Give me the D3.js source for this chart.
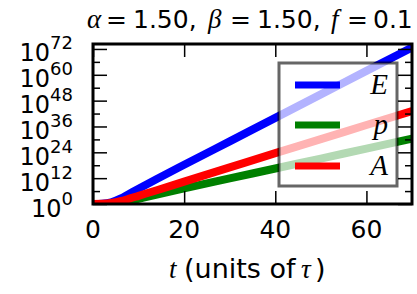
<!DOCTYPE html>
<html>
<head>
<meta charset="utf-8">
<script src="https://cdn.jsdelivr.net/npm/d3@7"></script>
<style>
  body { margin: 0; background: #fff; }
  svg { display: block; }
</style>
</head>
<body>
<div class="chart"></div>
<script>
// time points (units of tau) and log10 of each series
const tVals = [0, 2, 4, 6, 8, 10, 14, 20, 30, 40, 50, 60, 70]
const logE = [0, 0.15, 0.8, 2.5, 4.8, 7.1, 11.6, 18.2, 29.1, 40.0, 50.9, 61.8, 72.7]
const logP = [0, 0, 0.1, 0.6, 1.4, 2.4, 4.4, 7.3, 11.9, 16.5, 21.1, 25.7, 30.3]
const logA = [0, 0.1, 0.5, 1.3, 2.5, 3.8, 6.4, 10.4, 17.0, 23.6, 30.1, 36.7, 43.2]

const xTicks = [0, 20, 40, 60]
const yMajorExp = [0, 12, 24, 36, 48, 60, 72]
const yMinorExp = [6, 18, 30, 42, 54, 66]

const seriesNames = ['E', 'p', 'A']
const seriesColors = ['#0000ff', '#008000', '#ff0000']
const seriesLogs = [logE, logP, logA]

const width = 417
const height = 294
const plotL = 93, plotR = 412, plotT = 44, plotB = 204

var xScale = d3.scaleLinear().domain([0, 70]).range([plotL, plotR])
var yScale = d3.scaleLog().domain([1, Math.pow(10, 74.3)]).range([plotB, plotT])

var svg = d3.select('.chart')
  .append('svg')
  .attr('width', width)
  .attr('height', height)

svg.append('clipPath').attr('id', 'clip')
  .append('rect')
  .attr('x', plotL).attr('y', plotT)
  .attr('width', plotR - plotL).attr('height', plotB - plotT)

// lines
var line = d3.line()
  .x(d => xScale(d[0]))
  .y(d => yScale(Math.pow(10, d[1])))
  .curve(d3.curveMonotoneX)

seriesLogs.forEach((vals, i) => {
  svg.append('path')
    .datum(tVals.map((t, j) => [t, vals[j]]))
    .attr('d', line)
    .attr('fill', 'none')
    .attr('stroke', seriesColors[i])
    .attr('stroke-width', 8)
    .attr('clip-path', 'url(#clip)')
})

// ticks, pointing inwards on all four sides
const xAxisB = d3.axisBottom(xScale).tickValues(xTicks).tickSize(-13).tickFormat('')
const xAxisT = d3.axisTop(xScale).tickValues(xTicks).tickSize(-13).tickFormat('')
svg.append('g').attr('transform', `translate(0,${plotB})`).call(xAxisB)
svg.append('g').attr('transform', `translate(0,${plotT})`).call(xAxisT)

const majorVals = yMajorExp.map(e => Math.pow(10, e))
const minorVals = yMinorExp.map(e => Math.pow(10, e))
svg.append('g').attr('transform', `translate(${plotL},0)`)
  .call(d3.axisLeft(yScale).tickValues(majorVals).tickSize(-14).tickFormat(''))
svg.append('g').attr('transform', `translate(${plotL},0)`)
  .call(d3.axisLeft(yScale).tickValues(minorVals).tickSize(-7).tickFormat(''))
svg.append('g').attr('transform', `translate(${plotR},0)`)
  .call(d3.axisRight(yScale).tickValues(majorVals).tickSize(-14).tickFormat(''))
svg.append('g').attr('transform', `translate(${plotR},0)`)
  .call(d3.axisRight(yScale).tickValues(minorVals).tickSize(-7).tickFormat(''))

svg.selectAll('.domain').remove()
svg.selectAll('.tick line').attr('stroke', '#000').attr('stroke-width', 1.5)

// frame
svg.append('rect')
  .attr('x', plotL).attr('y', plotT)
  .attr('width', plotR - plotL).attr('height', plotB - plotT)
  .attr('fill', 'none').attr('stroke', '#000').attr('stroke-width', 3)

// x tick labels
svg.selectAll('.xlab')
  .data(xTicks)
  .enter()
  .append('text')
  .attr('x', d => xScale(d))
  .attr('y', 238)
  .attr('text-anchor', 'middle')
  .attr('font-family', 'DejaVu Sans')
  .attr('font-size', 25)
  .text(d => d)

// y tick labels 10^n
var ylab = svg.selectAll('.ylab')
  .data(yMajorExp)
  .enter()
  .append('text')
  .attr('x', 73)
  .attr('y', d => yScale(Math.pow(10, d)) + 12.5)
  .attr('text-anchor', 'end')
  .attr('font-family', 'DejaVu Sans')
  .attr('font-size', 24)
ylab.append('tspan').text('10')
ylab.append('tspan').attr('dy', -12).attr('font-size', 18).text(d => d)

// x axis label
const serif = 'Liberation Serif'
var xl = svg.append('text')
  .attr('y', 278)
  .attr('font-family', 'DejaVu Sans')
  .attr('font-size', 27)
xl.append('tspan').attr('x', 169).attr('font-family', serif).attr('font-style', 'italic').text('t')
xl.append('tspan').attr('x', 184).text('(units of')
xl.append('tspan').attr('x', 301).attr('font-family', serif).attr('font-style', 'italic').text('τ')
xl.append('tspan').attr('x', 315).text(')')

// title
var title = svg.append('text')
  .attr('y', 28)
  .attr('font-family', 'DejaVu Sans')
  .attr('font-size', 25)
const titleParts = [
  ['α', 87, true], ['=', 106], ['1.50,', 133],
  ['β', 208, true], ['=', 230], ['1.50,', 257],
  ['f', 331, true], ['=', 347], ['0.1', 373]
]
titleParts.forEach(p => {
  var ts = title.append('tspan').attr('x', p[1]).text(p[0])
  if (p[2]) ts.attr('font-family', serif).attr('font-style', 'italic').attr('font-size', 27)
})

// legend
var lg = svg.append('g')
lg.append('rect')
  .attr('x', 279).attr('y', 63)
  .attr('width', 118).attr('height', 123)
  .attr('fill', '#fff').attr('fill-opacity', 0.7)
  .attr('stroke', '#000').attr('stroke-opacity', 0.6).attr('stroke-width', 3)

const legendY = [85, 125, 166]
seriesNames.forEach((name, i) => {
  lg.append('line')
    .attr('x1', 295).attr('x2', 340)
    .attr('y1', legendY[i]).attr('y2', legendY[i])
    .attr('stroke', seriesColors[i]).attr('stroke-width', 7)
  lg.append('text')
    .attr('x', 388).attr('y', legendY[i] + 9)
    .attr('text-anchor', 'end')
    .attr('font-family', serif)
    .attr('font-style', 'italic')
    .attr('font-size', 29)
    .text(name)
})
</script>
</body>
</html>
